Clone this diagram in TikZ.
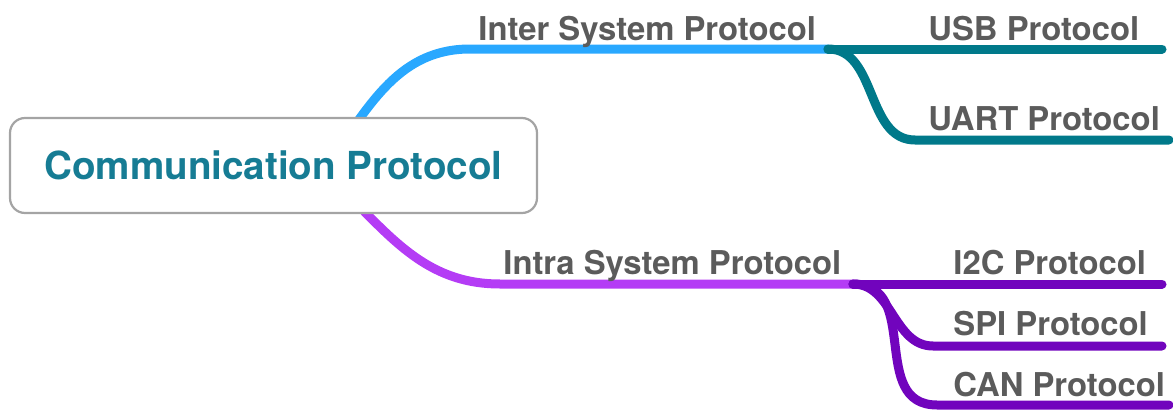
\documentclass[tikz,border=0pt]{standalone}
\usepackage{fontspec}
\setmainfont{TeX Gyre Heros}
\usetikzlibrary{positioning,calc,backgrounds}

\definecolor{interblue}{HTML}{29A8FF}
\definecolor{intertealc}{HTML}{00798A}
\definecolor{intrapurple}{HTML}{B43CF5}
\definecolor{intradark}{HTML}{7104BD}
\definecolor{labelgray}{HTML}{5B5B5B}
\definecolor{rootteal}{HTML}{167C94}
\definecolor{boxgray}{HTML}{A4A4A4}

\begin{document}
\begin{tikzpicture}[x=0.5pt,y=-0.5pt]
	\useasboundingbox (0,0) rectangle (1173,412);
	\begin{scope}
		\tikzstyle{every node}=[inner sep=0pt, text=labelgray, font=\bfseries\fontsize{16.4}{19}\selectfont]
		\tikzstyle{branch}=[line width=4.5pt, line cap=round]

		\node [draw=boxgray, line width=1.1pt, fill=white, rounded corners=7.5pt,
		       minimum width=263.5pt, minimum height=47.5pt, text=rootteal,
		       font=\bfseries\fontsize{19.3}{22}\selectfont] (root) at (273.5,165.5) {Communication Protocol};

		\node [anchor=base west] (inter) at (478,40)  {Inter System Protocol};
		\node [anchor=base west] (usb)   at (928,40)  {USB Protocol};
		\node [anchor=base west] (uart)  at (928,130) {UART Protocol};

		\node [anchor=base west] (intra) at (503,274) {Intra System Protocol};
		\node [anchor=base west] (i2c)   at (953,274) {I2C Protocol};
		\node [anchor=base west] (spi)   at (953,335) {SPI Protocol};
		\node [anchor=base west] (can)   at (953,396) {CAN Protocol};

		\coordinate (interJ) at (828,49);
		\coordinate (usbE)   at (1162,49);
		\coordinate (uartS)  at (915,140);
		\coordinate (uartE)  at (1169,140);

		\coordinate (intraJ) at (853,284);
		\coordinate (i2cE)   at (1162,284);
		\coordinate (spiS)   at (933,346);
		\coordinate (spiE)   at (1162,346);
		\coordinate (canS)   at (937,405);
		\coordinate (canE)   at (1169,405);

		\begin{scope}[on background layer]
			\draw [branch, interblue] ($(root.center)+(57,-5)$) to[out=55, in=180] (470,49) -- (interJ);
			\draw [branch, intertealc] (interJ) -- (usbE);
			\draw [branch, intertealc] (interJ) to[out=0, in=180] (uartS) -- (uartE);

			\draw [branch, intrapurple] ($(root.center)+(47,3)$) to[out=-42, in=180] (500,284) -- (intraJ);
			\draw [branch, intradark] (intraJ) -- (i2cE);
			\draw [branch, intradark] (intraJ) to[out=0, in=180] (spiS) -- (spiE);
			\draw [branch, intradark] (intraJ) to[out=0, in=180, looseness=1.2] (canS) -- (canE);
		\end{scope}
	\end{scope}
\end{tikzpicture}
\end{document}
